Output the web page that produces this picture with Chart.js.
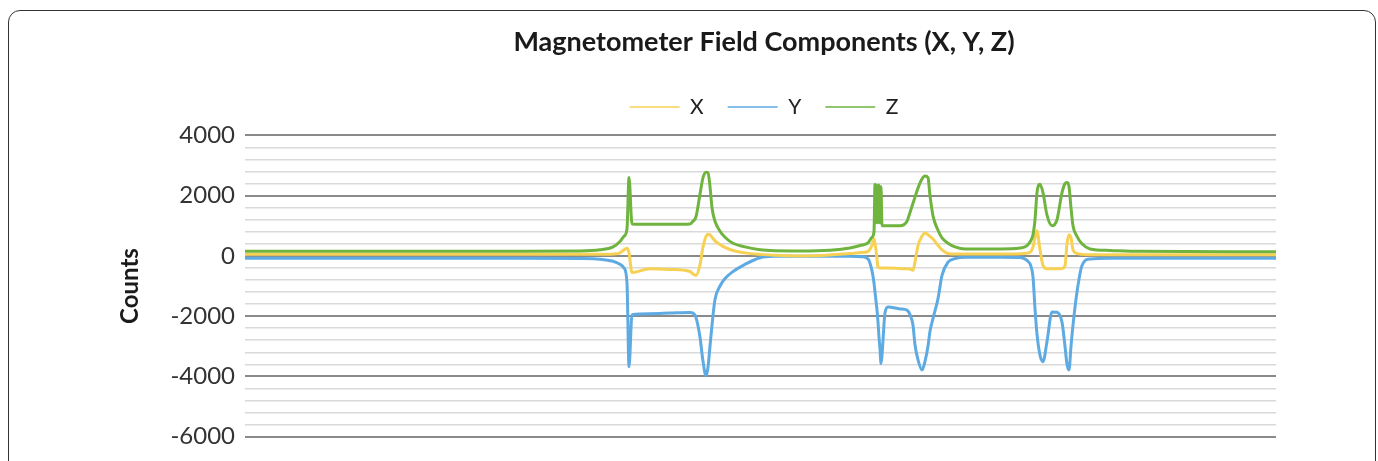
<!DOCTYPE html>
<html lang="en">
<head>
<meta charset="UTF-8" />
<title>Magnetometer Field Components</title>
<script src="https://cdn.jsdelivr.net/npm/chart.js"></script>
<style>
body { margin: 0; background: white; }
.frame {
  position: absolute; left: 8px; top: 10px; width: 1366px; height: 470px;
  border: 1.5px solid #333; border-radius: 12px;
}
.grafica { position: absolute; left: 0; top: 0; width: 1378px; height: 461px; }
</style>
</head>
<body>
<div class="frame"></div>
<div class="grafica">
<canvas id="myChart" width="1378" height="461"></canvas>
</div>
<script>
// sample position along the recording
const samples = [0, 255, 335, 355, 368, 375, 379, 382, 384, 387, 405, 425, 445, 448, 451, 455, 458, 461, 463, 465, 467, 470, 475, 480, 488, 500, 515, 530, 555, 585, 605, 617, 623, 627, 629, 630, 631, 632, 633, 634, 635, 636, 637, 640, 643, 655, 662, 665, 668, 670, 673, 677, 680, 683, 685, 688, 693, 697, 703, 710, 720, 755, 775, 782, 786, 788, 790, 792, 795, 798, 802, 807, 812, 817, 820, 822, 824, 826, 828, 832, 837, 845, 865, 895, 1031];
const xValues = [50, 50, 50, 50, 60, 100, 200, 250, 100, -550, -430, -450, -520, -600, -650, -300, 300, 650, 720, 700, 620, 500, 380, 280, 180, 100, 50, 20, 0, 30, 80, 110, 150, 350, 560, 400, 200, -100, -375, -390, -400, -400, -400, -400, -400, -420, -430, -440, -480, -200, 340, 650, 760, 700, 650, 560, 350, 200, 80, 60, 60, 60, 70, 90, 150, 300, 600, 836, 200, -320, -430, -430, -430, -420, -330, 400, 700, 600, 200, 80, 50, 40, 40, 40, 40];
const yValues = [-80, -80, -90, -110, -180, -280, -400, -900, -3680, -1950, -1920, -1900, -1880, -1900, -2050, -2700, -3500, -3980, -3700, -3000, -2300, -1450, -1000, -750, -520, -280, -60, -15, -10, -10, -15, -30, -100, -500, -900, -1200, -1500, -1800, -2200, -2700, -3100, -3570, -3300, -1900, -1700, -1760, -1800, -1950, -2300, -2950, -3450, -3790, -3500, -3000, -2500, -2080, -1420, -650, -210, -90, -45, -45, -50, -150, -350, -700, -1750, -2600, -3300, -3515, -2840, -1860, -1870, -2200, -3000, -3600, -3790, -3000, -2300, -1200, -320, -100, -80, -80, -80];
const zValues = [150, 150, 160, 200, 300, 480, 650, 900, 2600, 1060, 1050, 1050, 1060, 1150, 1300, 2050, 2600, 2780, 2760, 2300, 1600, 1150, 820, 620, 420, 300, 200, 170, 165, 190, 260, 360, 430, 620, 800, 2380, 1100, 2350, 1100, 2350, 1100, 2300, 1000, 1000, 1000, 1000, 1150, 1440, 1750, 1950, 2250, 2550, 2650, 2600, 2000, 1330, 850, 600, 420, 300, 230, 230, 260, 340, 520, 700, 1200, 2100, 2380, 2100, 1350, 1000, 1200, 2100, 2400, 2436, 2300, 1600, 1000, 650, 400, 230, 180, 150, 140];
const yTicks = [4000, 2000, 0, -2000, -4000, -6000];

function toPoints(values) {
  return values.map((v, i) => ({ x: samples[i], y: v }));
}

// title and legend sit centred over the whole frame, not the plot
const shiftHeader = {
  id: "shiftHeader",
  afterLayout(chart) {
    const dx = 68;
    chart.titleBlock.left += dx;
    chart.titleBlock.right += dx;
    chart.legend.left += dx;
    chart.legend.right += dx;
    chart.legend.top -= 8;
    chart.legend.bottom -= 8;
  }
};

Chart.defaults.font.family = "Lato";
Chart.defaults.color = "#222";

const datasets = [
  { label: "X", data: toPoints(xValues), borderColor: "#f7d154", order: 1 },
  { label: "Y", data: toPoints(yValues), borderColor: "#5eaae3", order: 2 },
  { label: "Z", data: toPoints(zValues), borderColor: "#6fb43f", order: 0 }
];

const config = {
  type: "line",
  data: { datasets },
  plugins: [shiftHeader],
  options: {
    responsive: false,
    animation: false,
    devicePixelRatio: 1,
    layout: { padding: { left: 116, right: 102, top: 10, bottom: 21 } },
    elements: {
      point: { radius: 0 },
      line: { borderWidth: 3, cubicInterpolationMode: "monotone" }
    },
    plugins: {
      title: {
        display: true,
        text: "Magnetometer Field Components (X, Y, Z)",
        font: { size: 27, weight: "bold" },
        color: "#1a1a1a",
        padding: { top: 16, bottom: 22 }
      },
      legend: {
        labels: {
          usePointStyle: true,
          pointStyleWidth: 50,
          padding: 24,
          font: { size: 21 },
          color: "#222",
          generateLabels: (chart) => chart.data.datasets.map((ds, i) => ({
            text: ds.label,
            datasetIndex: i,
            pointStyle: "line",
            strokeStyle: ds.borderColor,
            fillStyle: ds.borderColor,
            lineWidth: 1.5,
            fontColor: "#222"
          }))
        }
      },
      tooltip: { enabled: false }
    },
    scales: {
      x: { type: "linear", min: 0, max: 1031, display: false },
      y: {
        min: -6000,
        max: 4000,
        afterFit: (scale) => { scale.width = 129; },
        border: { display: false },
        ticks: {
          stepSize: 400,
          autoSkip: false,
          padding: 10,
          font: { size: 24 },
          color: "#333",
          callback: (v) => yTicks.includes(v) ? v : ""
        },
        grid: {
          drawTicks: false,
          color: (ctx) => yTicks.includes(ctx.tick.value) ? "#8a8a8a" : "#d9d9d9",
          lineWidth: (ctx) => yTicks.includes(ctx.tick.value) ? 2 : 1.5
        },
        title: {
          display: true,
          text: "Counts",
          font: { size: 24, weight: "bold" },
          color: "#1a1a1a",
          padding: { top: 0, bottom: 0 }
        }
      }
    }
  }
};

new Chart(document.getElementById("myChart"), config);
</script>
</body>
</html>
